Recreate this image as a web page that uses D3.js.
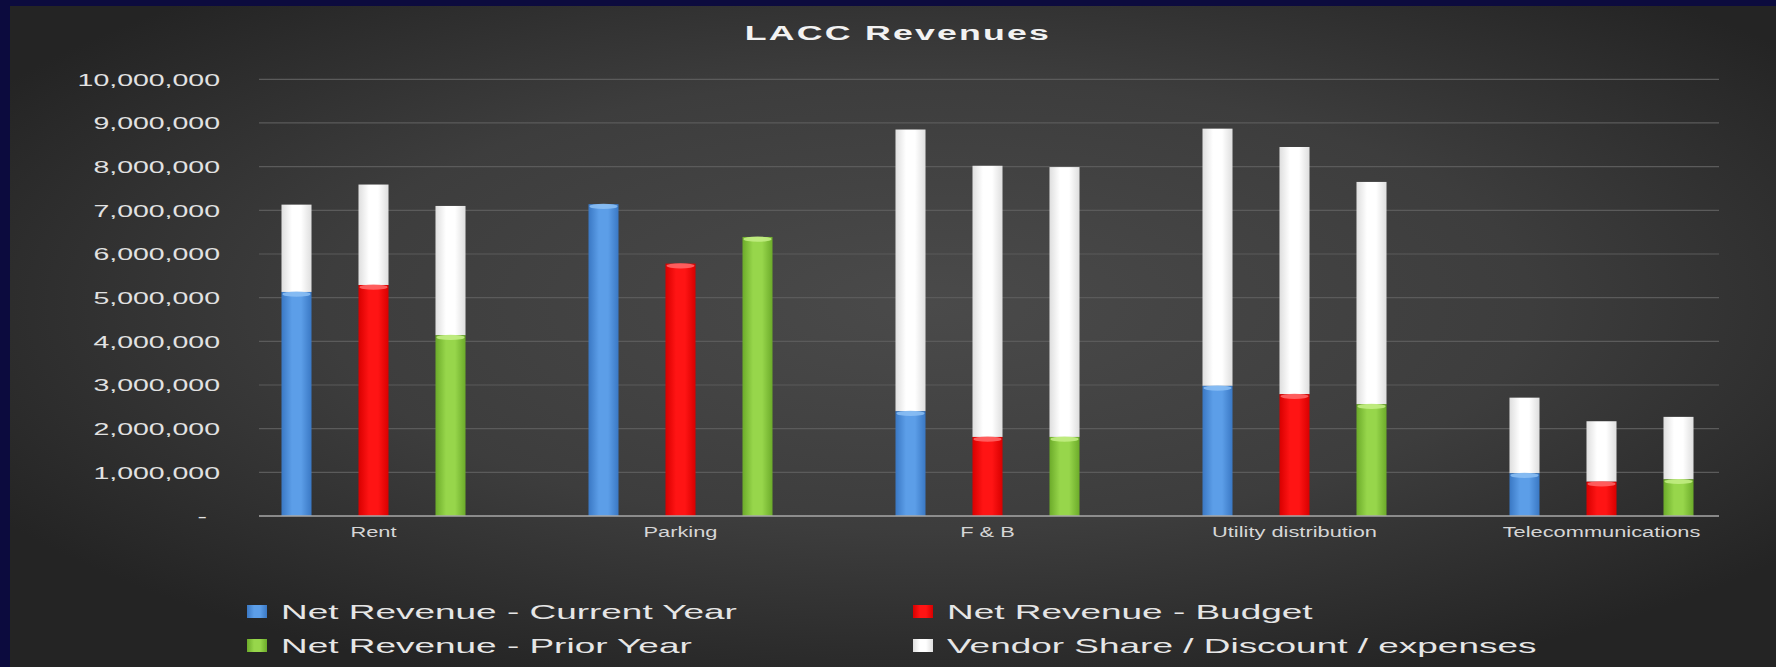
<!DOCTYPE html>
<html><head><meta charset="utf-8">
<script src="https://cdn.jsdelivr.net/npm/d3@7"></script>
<style>html,body{margin:0;padding:0;background:#0c0b3e;} svg{display:block;}</style>
</head><body><svg id="chart" width="1776" height="667"></svg>
<script>
// ---------------- data ----------------
const title = "LACC Revenues";
const categories = ["Rent", "Parking", "F & B", "Utility distribution", "Telecommunications"];
const seriesNames = ["Net Revenue - Current Year", "Net Revenue - Budget", "Net Revenue - Prior Year"];
const vendorName = "Vendor Share / Discount / expenses";
const netCurrent = [5130000, 7140000, 2400000, 2980000, 980000];
const netBudget  = [5290000, 5780000, 1810000, 2790000, 785000];
const netPrior   = [4140000, 6390000, 1810000, 2560000, 840000];
const vendorCurrent = [2000000, 0, 6450000, 5890000, 1730000];
const vendorBudget  = [2300000, 0, 6210000, 5660000, 1385000];
const vendorPrior   = [2960000, 0, 6180000, 5090000, 1430000];
const yTickValues = [0, 1000000, 2000000, 3000000, 4000000, 5000000, 6000000, 7000000, 8000000, 9000000, 10000000];
const yTickLabels = ["-", "1,000,000", "2,000,000", "3,000,000", "4,000,000", "5,000,000", "6,000,000", "7,000,000", "8,000,000", "9,000,000", "10,000,000"];

// ---------------- layout ----------------
const W = 1776, H = 667;
const plotLeft = 259, plotRight = 1719, plotTop = 79.3, plotBottom = 516;
const FONT = "'Liberation Sans', Arial, sans-serif";

const svg = d3.select("#chart");
const defs = svg.append("defs");

// background
const bg = defs.append("radialGradient").attr("id", "bgGrad").attr("cx", "0.52").attr("cy", "0.45").attr("r", "0.62");
bg.append("stop").attr("offset", "0").attr("stop-color", "#4a4a4a");
bg.append("stop").attr("offset", "0.55").attr("stop-color", "#3d3d3d");
bg.append("stop").attr("offset", "1").attr("stop-color", "#242424");
svg.append("rect").attr("width", W).attr("height", H).attr("fill", "#0c0b3e");
svg.append("rect").attr("x", 10).attr("y", 6).attr("width", W - 10).attr("height", H - 6).attr("fill", "url(#bgGrad)");

// bar gradients
const palette = {
  blue:  {edge: "#3a78c4", mid: "#5c9ee8", cap: "#8cc0f5"},
  red:   {edge: "#d80000", mid: "#ff1414", cap: "#ff6a6a"},
  green: {edge: "#6cab2a", mid: "#97d64b", cap: "#c4ef86"},
  white: {edge: "#dedede", mid: "#ffffff", cap: "#ffffff"}
};
Object.entries(palette).forEach(([k, c]) => {
  const g = defs.append("linearGradient").attr("id", "g_" + k).attr("x1", 0).attr("x2", 1).attr("y1", 0).attr("y2", 0);
  g.append("stop").attr("offset", "0").attr("stop-color", c.edge);
  g.append("stop").attr("offset", "0.35").attr("stop-color", c.mid);
  g.append("stop").attr("offset", "0.65").attr("stop-color", c.mid);
  g.append("stop").attr("offset", "1").attr("stop-color", c.edge);
});
const seriesColor = ["blue", "red", "green"];

// scales
const y = d3.scaleLinear().domain([0, 10000000]).range([plotBottom, plotTop]);
const x = d3.scaleBand().domain(categories).range([220, 1755]).paddingInner(0).paddingOuter(0);
const xInner = d3.scaleBand().domain(seriesNames).range([-115.5, 115.5]).paddingInner(0.61).paddingOuter(0.305);

// gridlines
svg.append("g").selectAll("line").data(yTickValues.filter(v => v > 0)).join("line")
  .attr("x1", plotLeft).attr("x2", plotRight)
  .attr("y1", d => y(d)).attr("y2", d => y(d))
  .attr("stroke", "#5b5b5b").attr("stroke-width", 1.2);

// y axis
const yAxis = svg.append("g").attr("transform", `translate(${plotLeft},0)`)
  .call(d3.axisLeft(y).tickValues(yTickValues).tickSize(0).tickFormat((d, i) => yTickLabels[i]));
yAxis.select(".domain").remove();
const sxTick = 1.78;
yAxis.selectAll(".tick text")
  .attr("font-family", FONT).attr("font-size", 16).attr("fill", "#e2e2e2")
  .attr("dy", "0.36em")
  .attr("x", d => (d === 0 ? -52 : -39) / sxTick)
  .attr("transform", `scale(${sxTick},1)`);

// bars
const netSets = [netCurrent, netBudget, netPrior];
const vendorSets = [vendorCurrent, vendorBudget, vendorPrior];
const barData = [];
categories.forEach((c, i) => {
  seriesNames.forEach((s, j) => {
    barData.push({cat: c, series: s, color: seriesColor[j], net: netSets[j][i], vendor: vendorSets[j][i]});
  });
});
const bw = xInner.bandwidth();
const bars = svg.append("g").selectAll("g").data(barData).join("g")
  .attr("transform", d => `translate(${x(d.cat) + x.bandwidth() / 2 + xInner(d.series)},0)`);
bars.filter(d => d.vendor > 0).append("rect")
  .attr("x", 0).attr("width", bw)
  .attr("y", d => y(d.net + d.vendor)).attr("height", d => y(d.net) - y(d.net + d.vendor))
  .attr("fill", "url(#g_white)");
bars.append("rect")
  .attr("x", 0).attr("width", bw)
  .attr("y", d => y(d.net)).attr("height", d => y(0) - y(d.net))
  .attr("fill", d => `url(#g_${d.color})`);
bars.append("ellipse")
  .attr("cx", bw / 2).attr("rx", bw / 2 - 1).attr("ry", 2.6)
  .attr("cy", d => y(d.net) + 2.2)
  .attr("fill", d => palette[d.color].cap).attr("opacity", 0.85);

// x axis line
svg.append("line").attr("x1", plotLeft).attr("x2", plotRight)
  .attr("y1", y(0)).attr("y2", y(0)).attr("stroke", "#a8a8a8").attr("stroke-width", 1.6);

// x axis labels
const xAxis = svg.append("g").attr("transform", `translate(0,${plotBottom})`)
  .call(d3.axisBottom(x).tickSize(0));
xAxis.select(".domain").remove();
const sxCat = 1.56;
xAxis.selectAll(".tick text")
  .attr("font-family", FONT).attr("font-size", 14).attr("fill", "#d6d6d6")
  .attr("dy", 0).attr("y", 21)
  .attr("transform", `scale(${sxCat},1)`);

// title
svg.append("text").attr("transform", `translate(898,40) scale(1.7,1)`)
  .attr("text-anchor", "middle").attr("font-family", FONT).attr("font-weight", "bold")
  .attr("font-size", 21).attr("letter-spacing", 1.3).attr("fill", "#f2f2f2").text(title);

// legend
const legendItems = [
  {name: seriesNames[0], color: "blue"},
  {name: seriesNames[1], color: "red"},
  {name: seriesNames[2], color: "green"},
  {name: vendorName, color: "white"}
];
const colX = [247, 913], rowY = [619, 653];
const sxLeg = 1.76;
const leg = svg.append("g").selectAll("g").data(legendItems).join("g")
  .attr("transform", (d, i) => `translate(${colX[i % 2]},${rowY[Math.floor(i / 2)]})`);
leg.append("rect").attr("x", 0).attr("y", -14).attr("width", 20).attr("height", 13)
  .attr("fill", d => `url(#g_${d.color})`);
leg.append("text").attr("transform", `translate(34,0) scale(${sxLeg},1)`)
  .attr("font-family", FONT).attr("font-size", 21).attr("fill", "#e6e6e6")
  .text(d => d.name);
</script></body></html>
